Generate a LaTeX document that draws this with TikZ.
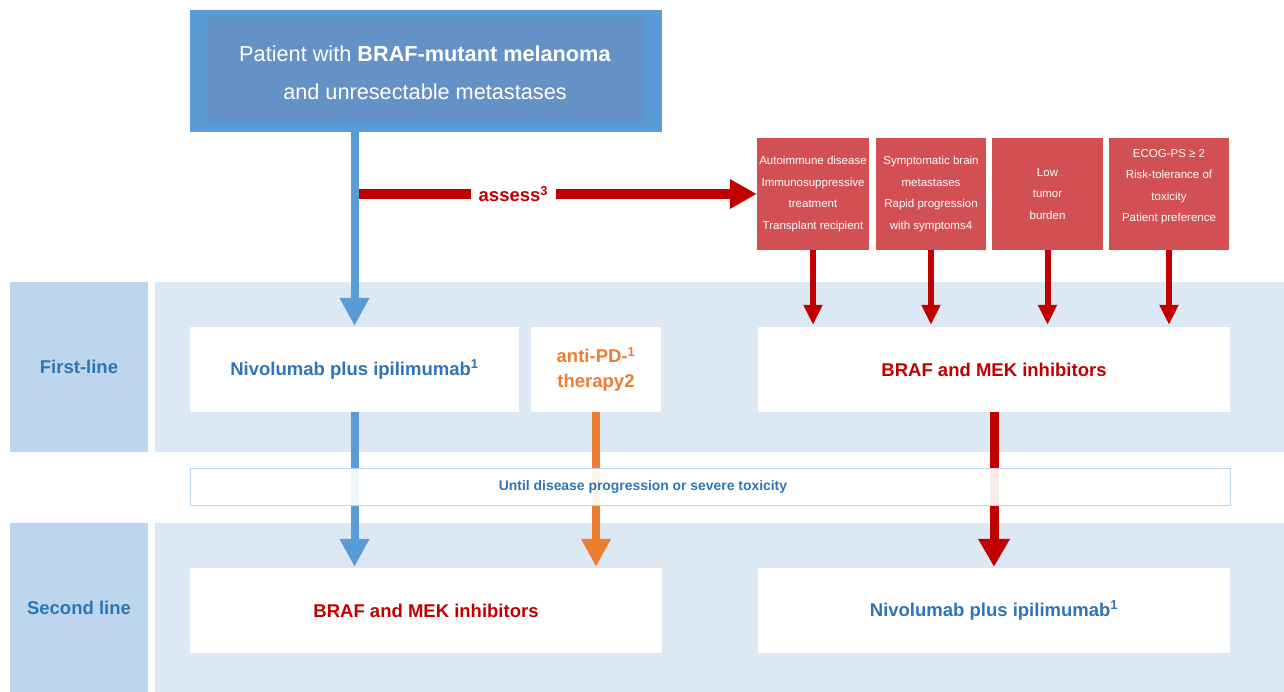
\documentclass[tikz,border=0pt]{standalone}
\usepackage{fontspec}
\setmainfont{Liberation Sans}
\usetikzlibrary{arrows.meta,positioning}
\definecolor{bandblue}{HTML}{DDE8F5}
\definecolor{labblue}{HTML}{BDD6EE}
\definecolor{boxblue}{HTML}{5B9BD5}
\definecolor{innerblue}{HTML}{6592C6}
\definecolor{txtblue}{HTML}{2E75B6}
\definecolor{txtred}{HTML}{C00000}
\definecolor{critred}{HTML}{D24F54}
\definecolor{orng}{HTML}{ED7D31}
\tikzset{
    %Define style for the row labels
    rowlabel/.style={
           rectangle,
           fill=labblue,
           inner sep=0pt,
           minimum width=138pt,
           text=txtblue,
           font=\fontsize{18.5}{22}\selectfont\bfseries,
           text centered},
    %Define style for white therapy boxes
    therapy/.style={
           rectangle,
           fill=white,
           inner sep=0pt,
           minimum height=85pt,
           font=\fontsize{18.5}{25}\selectfont\bfseries,
           align=center},
    %Define style for red criteria boxes
    crit/.style={
           rectangle,
           fill=critred,
           inner sep=0pt,
           minimum height=112pt,
           text=white,
           font=\fontsize{11.5}{21.5}\selectfont,
           align=center},
    % Define arrow styles
    bigpil/.style={
           line width=8pt,
           -{Triangle[length=28pt,width=28pt]},
           shorten >=1pt},
    smallpil/.style={
           line width=6pt, draw=txtred,
           -{Triangle[length=20pt,width=18pt]},
           shorten >=2pt}
}
\begin{document}
\begin{tikzpicture}[x=1pt,y=-1pt]
\useasboundingbox (0,0) rectangle (1284,692);
% row bands
\fill[bandblue] (155,282) rectangle (1284,452);
\fill[bandblue] (155,523) rectangle (1284,692);
\node[rowlabel, minimum height=170pt] (first) at (79,367) {First-line};
\node[rowlabel, minimum height=169pt] (second) at (79,607.5) {Second line};
% patient box
\node[rectangle, fill=boxblue, minimum width=472pt, minimum height=122pt] (patient) at (426,71) {};
\node[rectangle, fill=innerblue, minimum width=437pt, minimum height=105pt] (patientin) at (425,70) {};
\node[text=white, font=\fontsize{21.7}{38}\selectfont, align=center] (patienttxt) at (425,73)
  {Patient with \textbf{BRAF-mutant melanoma}\\and unresectable metastases};
% criteria
\node[crit, minimum width=112pt] (c1) at (813,194) {Autoimmune disease\\Immunosuppressive\\treatment\\Transplant recipient};
\node[crit, minimum width=110pt] (c2) at (931,194) {Symptomatic brain\\metastases\\Rapid progression\\with symptoms4};
\node[crit, minimum width=111pt] (c3) at (1047.5,194) {Low\\tumor\\burden};
\node[crit, minimum width=120pt] (c4) at (1169,194) {ECOG-PS ≥ 2\\Risk-tolerance of\\toxicity\\Patient preference\\[-4pt]\mbox{}};
% first line
\node[therapy, minimum width=329pt, text=txtblue] (nivo1) at (354.5,369.5) {Nivolumab plus ipilimumab\textsuperscript{1}};
\node[therapy, minimum width=130pt, text=orng] (antipd) at (596,369.5) {anti-PD-\textsuperscript{1}\\therapy2};
\node[therapy, minimum width=472pt, text=txtred] (braf1) at (994,369.5) {BRAF and MEK inhibitors};
% second line
\node[therapy, minimum width=472pt, text=txtred] (braf2) at (426,610.5) {BRAF and MEK inhibitors};
\node[therapy, minimum width=472pt, text=txtblue] (nivo2) at (994,610.5) {Nivolumab plus ipilimumab\textsuperscript{1}};
% assess arrow
\coordinate (as) at (nivo1.north |- c1.west);
\draw[line width=10pt, draw=txtred, -{Triangle[length=27pt,width=28pt]}] (as) -- (c1.west)
  node[pos=0.395, fill=white, inner xsep=8pt, inner ysep=2pt, text=txtred,
  font=\fontsize{18.5}{22}\selectfont\bfseries] (assess) {assess\textsuperscript{3}};
\draw[bigpil, draw=boxblue] (nivo1.north |- patient.south) -- (nivo1.north);
\foreach \c in {c1,c2,c3,c4}
  \draw[smallpil] (\c.south) -- (\c.south |- braf1.north);
% to second line
\draw[bigpil, draw=boxblue] (nivo1.south) -- (nivo1.south |- braf2.north);
\draw[bigpil, draw=orng] (antipd.south) -- (antipd.south |- braf2.north);
\draw[bigpil, line width=9pt, draw=txtred, -{Triangle[length=28pt,width=30pt]}] (braf1.south) -- (braf1.south |- nivo2.north);
\node[rectangle, fill=white, fill opacity=0.92, draw=labblue, line width=0.8pt,
  minimum width=1040pt, minimum height=37pt, inner sep=0pt] (until) at (710,486.5) {};
\node[text=txtblue, font=\fontsize{13.9}{16}\selectfont\bfseries] (untiltxt) at (643,486.5)
  {Until disease progression or severe toxicity};
\end{tikzpicture}
\end{document}
